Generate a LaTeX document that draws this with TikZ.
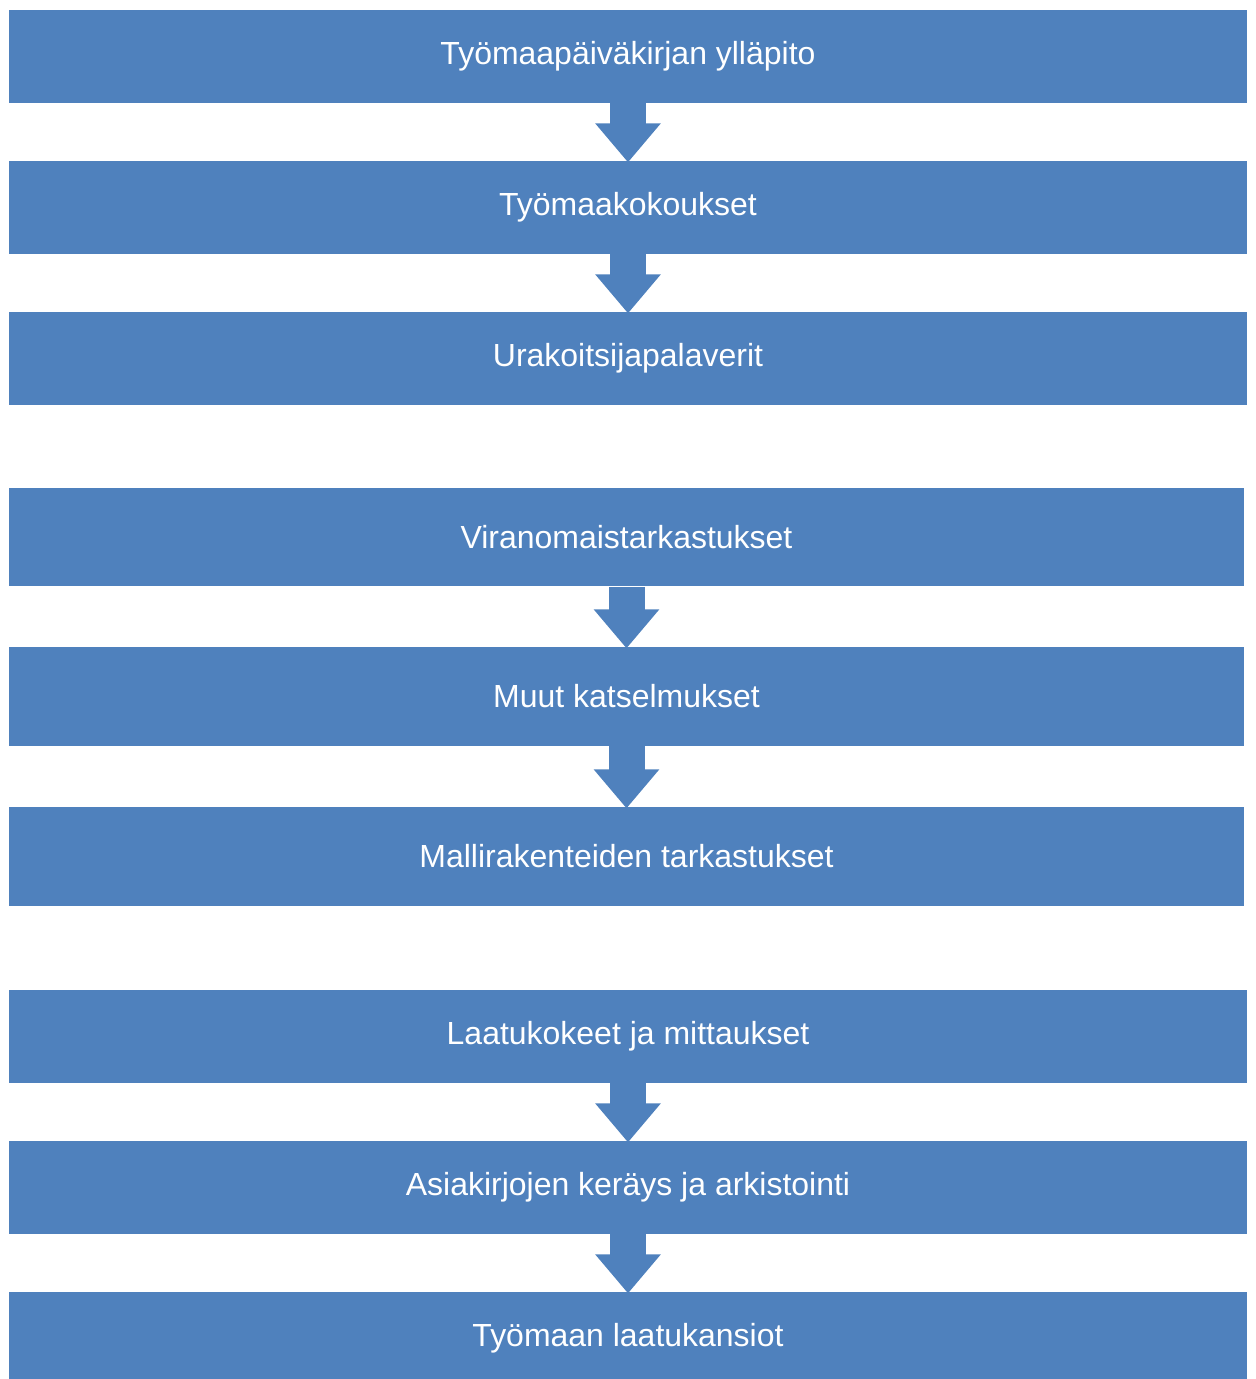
\documentclass[tikz,border=0pt]{standalone}
\usepackage{fontspec}
\setmainfont{Liberation Sans}
\usetikzlibrary{arrows.meta}
\definecolor{stepblue}{HTML}{4F81BD}
\tikzset{
  stepbox/.style={fill=stepblue, draw=none, text=white, font=\fontsize{18.2}{21}\selectfont,
    minimum width=24.76cm, minimum height=1.86cm, inner sep=0pt},
  widebox/.style={stepbox, minimum width=24.70cm, minimum height=1.98cm},
  blockarrow/.style={draw=stepblue, line width=0.72cm,
    -{Triangle[width=1.26cm,length=0.78cm]}, shorten >=-1pt}
}
\begin{document}
\begin{tikzpicture}[x=0.02cm, y=-0.02cm]
  \useasboundingbox (0,0) rectangle (1256,1379);
  % first group
  \node[stepbox] (paivakirja) at (628,56.5) {Työmaapäiväkirjan ylläpito};
  \node[stepbox] (kokoukset) at (628,207.5) {Työmaakokoukset};
  \node[stepbox] (palaverit) at (628,358.5) {Urakoitsijapalaverit};
  \draw[blockarrow] (paivakirja.south) -- (kokoukset.north);
  \draw[blockarrow] (kokoukset.south) -- (palaverit.north);
  % second group
  \node[widebox] (viranomais) at (626.5,537) {Viranomaistarkastukset};
  \node[widebox] (katselmukset) at (626.5,696.5) {Muut katselmukset};
  \node[widebox] (mallirak) at (626.5,856.5) {Mallirakenteiden tarkastukset};
  \draw[blockarrow] (viranomais.south) -- (katselmukset.north);
  \draw[blockarrow] (katselmukset.south) -- (mallirak.north);
  % third group
  \node[stepbox] (laatukokeet) at (628,1036.5) {Laatukokeet ja mittaukset};
  \node[stepbox] (asiakirjat) at (628,1187.5) {Asiakirjojen keräys ja arkistointi};
  \node[stepbox] (kansiot) at (628,1338.5) {Työmaan laatukansiot};
  \draw[blockarrow] (laatukokeet.south) -- (asiakirjat.north);
  \draw[blockarrow] (asiakirjat.south) -- (kansiot.north);
\end{tikzpicture}
\end{document}
